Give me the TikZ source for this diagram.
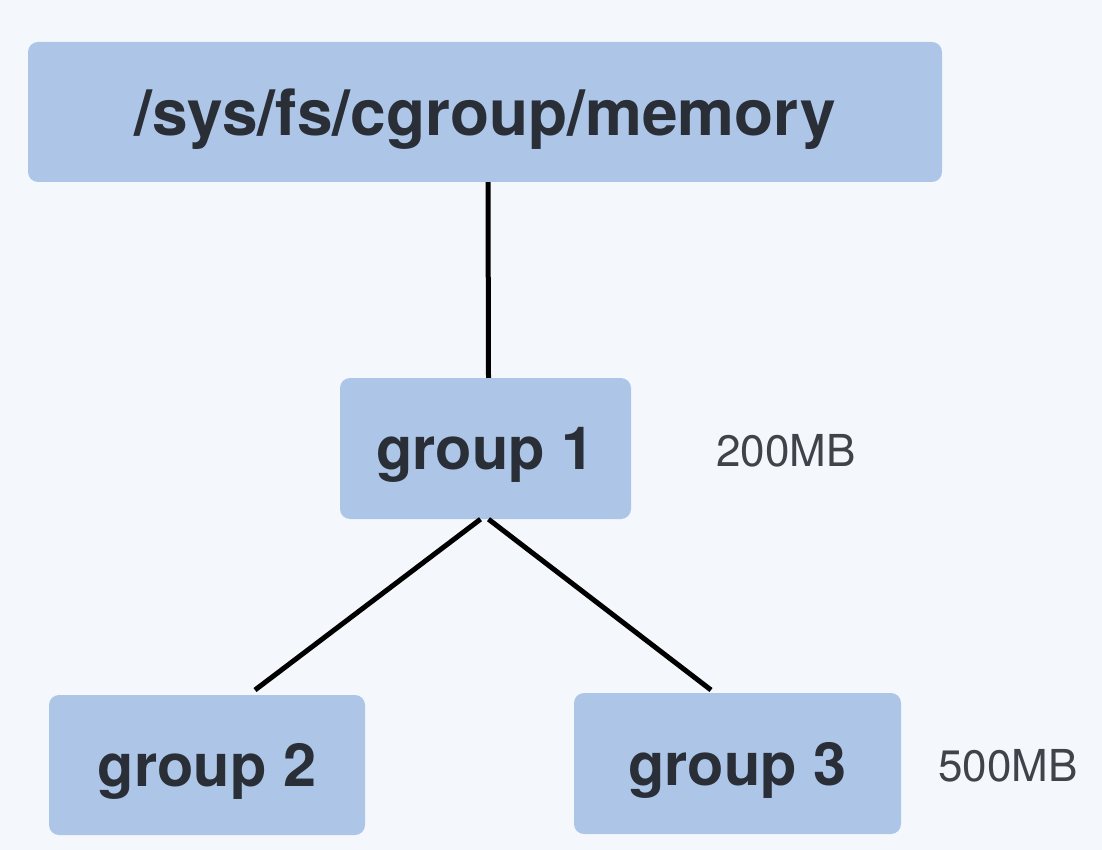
\documentclass[tikz,border=0pt]{standalone}
\usepackage{fontspec}
\setmainfont{TeX Gyre Heros}
\usetikzlibrary{positioning}
\definecolor{bgcol}{HTML}{F4F8FC}
\definecolor{boxcol}{HTML}{ADC6E8}
\definecolor{txtcol}{HTML}{2A2F37}
\tikzstyle{grp}=[rectangle, rounded corners=10pt, fill=boxcol, inner sep=0pt, text depth=0pt, text=txtcol, font=\fontsize{59.5}{62}\selectfont\bfseries, anchor=center]
\tikzstyle{annot}=[align=center, text=txtcol!90, font=\fontsize{44}{48}\selectfont]
\tikzstyle{link}=[line width=5pt, black]

\begin{document}
\begin{tikzpicture}[x=1pt,y=-1pt]
	\fill[bgcol] (0,0) rectangle (1102,850);
	\useasboundingbox (0,0) rectangle (1102,850);

	\node[grp, minimum width=914pt, minimum height=140pt, font=\fontsize{64}{68}\selectfont\bfseries](root) at (485,112){/sys/fs/cgroup/memory};
	\node[grp, minimum width=291pt, minimum height=141pt](group1) at (485.5,448.5){group 1};
	\node[grp, minimum width=316pt, minimum height=140pt](group2) at (207,765){group 2};
	\node[grp, minimum width=327pt, minimum height=141pt](group3) at (737.5,763.5){group 3};

	\node[annot](size1) at (786,451){200MB};
	\node[annot](size3) at (1008,766){500MB};

	\coordinate (end2) at (255,690);
	\coordinate (end3) at (711,690);

	\draw[link] ([xshift=3pt]root.south) -- ([xshift=3pt]group1.north);
	\draw[link] ([xshift=-5pt]group1.south) -- (end2);
	\draw[link] ([xshift=3pt]group1.south) -- (end3);

\end{tikzpicture}
\end{document}
